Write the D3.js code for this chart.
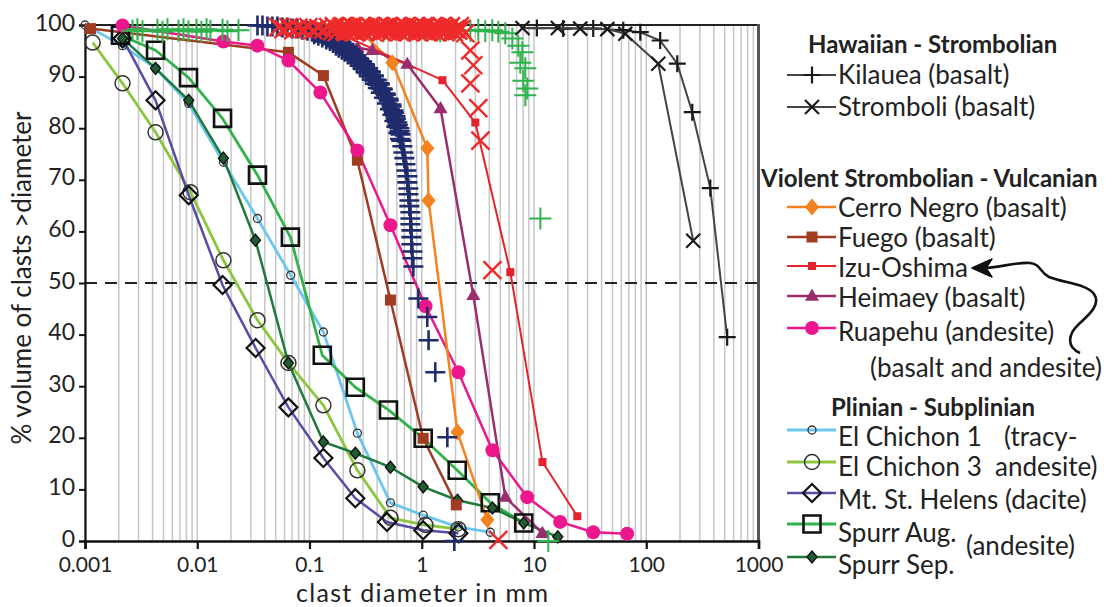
<!DOCTYPE html>
<html>
<head>
<meta charset="utf-8">
<script src="https://cdn.jsdelivr.net/npm/d3@7"></script>
<style>
  body { margin: 0; background: #fff; }
  svg { display: block; font-family: Lato, "Open Sans", sans-serif; }
</style>
</head>
<body>
<svg id="chart" width="1114" height="607"></svg>
<script>
// ---------------- data: [clast diameter (mm), % volume > diameter] ----------------
const xTickValues = [0.001, 0.01, 0.1, 1, 10, 100, 1000];
const xTickLabels = ["0.001", "0.01", "0.1", "1", "10", "100", "1000"];
const yTickValues = [0, 10, 20, 30, 40, 50, 60, 70, 80, 90, 100];
const yTickLabels = ["0", "10", "20", "30", "40", "50", "60", "70", "80", "90", "100"];

// Hawaiian - Strombolian
const kilauea = [[10.6, 99.4], [18.2, 99.3], [33.7, 99.3], [62.4, 99.0], [88.5, 98.6], [133, 97.0], [189, 92.5], [257, 83.1], [372, 68.4], [526, 39.5]];
const stromboli = [[7.9, 99.4], [16.3, 99.4], [25.8, 99.3], [45, 99.2], [65, 98.3], [128, 92.5], [262, 58.2]];

// Violent Strombolian - Vulcanian
const cerroNegro = [[0.25, 100], [0.547, 92.7], [1.12, 76.1], [1.15, 66.0], [2.08, 21.1], [3.84, 4.1]];
const fuego = [[0.00112, 99.3], [0.0649, 94.7], [0.133, 90.2], [0.267, 73.8], [0.526, 46.7], [1.03, 19.9], [2.03, 7.0]];
const izuOshima = [[0.209, 97.8], [1.53, 89.3], [3.0, 81.1], [6.15, 52.1], [11.9, 15.3], [24.3, 4.8]];
const heimaey = [[0.267, 95.6], [0.363, 95.1], [0.744, 92.4], [1.47, 83.8], [2.88, 47.6], [5.56, 8.5], [11.9, 1.5]];
const ruapehu = [[0.00216, 99.9], [0.0171, 96.8], [0.0343, 96.0], [0.0649, 93.1], [0.125, 86.9], [0.267, 75.7], [0.526, 61.2], [1.08, 45.5], [2.12, 32.7], [4.26, 17.6], [8.7, 8.5], [17.1, 3.7], [33.7, 1.7], [67.6, 1.4]];

// Plinian - Subplinian
const elChichon1 = [[0.001, 100], [0.00216, 96.0], [0.00425, 91.6], [0.0084, 84.8], [0.0171, 73.4], [0.0344, 62.5], [0.068, 51.5], [0.133, 40.5], [0.267, 20.9], [0.526, 7.4], [1.03, 5.0], [2.12, 2.7], [4.08, 1.7]];
const elChichon3 = [[0.00117, 96.6], [0.00216, 88.7], [0.00425, 79.2], [0.0087, 67.6], [0.0171, 54.4], [0.0344, 42.8], [0.0649, 34.5], [0.133, 26.3], [0.267, 13.7], [0.526, 4.5], [1.08, 3.1], [2.12, 2.3]];
const mtStHelens = [[0.00216, 97.4], [0.00425, 85.4], [0.0084, 67.0], [0.0168, 49.6], [0.0331, 37.4], [0.0649, 25.9], [0.133, 16.1], [0.256, 8.3], [0.49, 3.7], [1.03, 2.1], [2.12, 1.5]];
const spurrAug = [[0.00207, 98.0], [0.00425, 95.1], [0.00836, 89.8], [0.0168, 81.9], [0.0344, 70.9], [0.0676, 58.9], [0.130, 36.0], [0.256, 29.8], [0.505, 25.4], [1.03, 19.9], [2.07, 13.7], [4.08, 7.4], [8.1, 3.5]];
const spurrSep = [[0.00216, 97.4], [0.00425, 91.6], [0.0084, 85.4], [0.0171, 74.2], [0.033, 58.3], [0.0649, 34.5], [0.133, 19.2], [0.256, 17.0], [0.526, 14.3], [1.03, 10.5], [2.08, 7.9], [4.26, 6.4], [8.1, 3.5], [16.3, 0.8]];

// additional sample sets plotted as point clouds
const navyPlus = [
  [0.0344, 99.9], [0.0381, 99.9], [0.0422, 99.7], [0.0467, 99.7], [0.0518, 99.7], [0.0574, 99.5], [0.0636, 99.5], [0.0704, 99.3],
  [0.0780, 99.3], [0.0865, 99.1], [0.0958, 98.9], [0.106, 98.7], [0.115, 98.5], [0.125, 98.4], [0.136, 98.0], [0.147, 97.6],
  [0.157, 97.4], [0.167, 97.0], [0.177, 96.6], [0.188, 96.2], [0.200, 95.8], [0.213, 95.5], [0.227, 95.1], [0.241, 94.5],
  [0.256, 94.1], [0.272, 93.5], [0.290, 92.9], [0.308, 92.4], [0.328, 91.6], [0.348, 91.0], [0.371, 90.2], [0.394, 89.4],
  [0.419, 88.7], [0.446, 87.7], [0.474, 86.7], [0.504, 85.7], [0.536, 84.6], [0.559, 83.4], [0.582, 82.3], [0.606, 81.1],
  [0.632, 80.0], [0.645, 78.8], [0.658, 77.6], [0.672, 76.5], [0.686, 75.3], [0.700, 74.2], [0.715, 73.0], [0.729, 71.8],
  [0.744, 70.7], [0.744, 69.5], [0.760, 68.3], [0.760, 67.2], [0.776, 66.0], [0.776, 64.9], [0.792, 63.7], [0.792, 62.5],
  [0.792, 61.4], [0.808, 60.2], [0.808, 58.9], [0.808, 57.5], [0.825, 56.1], [0.825, 54.8], [0.842, 53.2], [0.933, 47.0],
  [1.12, 43.4], [1.15, 38.9], [1.32, 32.7], [1.69, 20.1], [1.95, 0],
  [0.110, 98.2], [0.120, 97.9], [0.130, 97.6], [0.141, 97.2], [0.152, 96.9], [0.162, 96.5], [0.172, 96.0], [0.182, 95.6],
  [0.194, 95.2], [0.206, 94.8], [0.220, 94.3], [0.234, 93.8], [0.248, 93.3], [0.264, 92.7], [0.281, 92.1], [0.299, 91.5],
  [0.318, 90.8], [0.338, 90.1], [0.359, 89.4], [0.382, 88.6], [0.406, 87.8], [0.432, 86.9], [0.460, 85.9], [0.489, 84.8],
  [0.520, 83.7], [0.548, 82.6], [0.570, 81.4], [0.594, 80.3], [0.619, 79.1], [0.640, 77.9],
  [0.105, 98.9], [0.118, 98.6], [0.128, 98.3], [0.139, 98.0], [0.150, 97.7], [0.160, 97.4], [0.170, 97.0], [0.181, 96.7],
  [0.192, 96.3], [0.204, 95.9], [0.217, 95.5], [0.231, 95.0], [0.245, 94.6], [0.260, 94.0], [0.276, 93.5], [0.294, 92.9],
  [0.313, 92.3], [0.333, 91.6], [0.353, 90.9], [0.375, 90.1], [0.398, 89.3], [0.423, 88.5], [0.450, 87.5], [0.478, 86.5],
  [0.508, 85.4], [0.540, 84.2], [0.565, 83.0], [0.588, 81.8], [0.612, 80.6], [0.636, 79.4]
];
const greenPlus = [
  [0.00265, 98.9], [0.00293, 99.2], [0.00325, 98.8], [0.00442, 99.1], [0.00490, 98.7], [0.00543, 99.2], [0.00680, 98.9], [0.00754, 99.2],
  [0.00835, 98.8], [0.00984, 99.1], [0.0109, 98.7], [0.0121, 99.2], [0.0131, 98.9], [0.0168, 99.1], [0.0186, 98.8], [0.0233, 99.0],
  [0.348, 99.0], [0.455, 98.8], [0.582, 99.1], [0.792, 98.9], [1.08, 99.0], [1.46, 98.8], [1.99, 99.1], [2.71, 98.9],
  [3.19, 99.1], [3.68, 98.8], [4.25, 99.0], [4.81, 98.7],
  [5.55, 98.4], [6.41, 97.4], [7.25, 96.0], [7.87, 94.7], [7.55, 92.7], [8.37, 91.6], [8.03, 89.2], [8.71, 87.7], [8.37, 86.4],
  [11.4, 62.5], [13.4, 0]
];
const redCross = [
  [0.0528, 99.6], [0.0586, 99.2], [0.0649, 99.6], [0.0719, 99.0], [0.0796, 99.5], [0.0882, 99.2], [0.0977, 99.6], [0.108, 99.0],
  [0.120, 99.4], [0.133, 99.1], [0.147, 99.6], [0.160, 98.8], [0.170, 99.5], [0.181, 99.0], [0.192, 99.6], [0.205, 98.9],
  [0.218, 99.4], [0.231, 99.0], [0.246, 99.6], [0.262, 98.8], [0.278, 99.3], [0.296, 99.0], [0.315, 99.6], [0.335, 98.9],
  [0.356, 99.4], [0.378, 99.1], [0.402, 99.6], [0.428, 98.8], [0.455, 99.3], [0.484, 99.0], [0.515, 99.6], [0.547, 98.9],
  [0.582, 99.4], [0.619, 99.0], [0.658, 99.6], [0.700, 98.8], [0.744, 99.3], [0.792, 99.0], [0.842, 99.5], [0.895, 98.9],
  [0.952, 99.4], [1.01, 99.0], [1.08, 99.6], [1.14, 98.8], [1.22, 99.3], [1.29, 99.0], [1.38, 99.5], [1.46, 98.8],
  [1.56, 99.3], [1.66, 99.0], [1.76, 99.4], [1.87, 98.8], [1.99, 99.2], [2.12, 98.9], [2.25, 99.2],
  [0.165, 99.8], [0.175, 98.6], [0.186, 99.2], [0.198, 99.8], [0.211, 98.6], [0.224, 99.2], [0.238, 99.8], [0.254, 98.6],
  [0.270, 99.2], [0.287, 99.8], [0.305, 98.6], [0.325, 99.2], [0.345, 99.8], [0.367, 98.6], [0.390, 99.2], [0.415, 99.8],
  [0.441, 98.6], [0.469, 99.2], [0.499, 99.8], [0.531, 98.6], [0.564, 99.2], [0.600, 99.8], [0.638, 98.6], [0.679, 99.2],
  [0.722, 99.8], [0.768, 98.6], [0.816, 99.2], [0.868, 99.8], [0.923, 98.6], [0.981, 99.2], [1.04, 99.8], [1.11, 98.6],
  [1.18, 99.2], [1.25, 99.8], [1.33, 98.6], [1.42, 99.2], [1.51, 99.8], [1.61, 98.6], [1.71, 99.2], [1.82, 99.8],
  [1.93, 98.6], [2.05, 99.2], [2.18, 99.8],
  [2.44, 98.4], [2.71, 95.1], [2.88, 92.2], [2.71, 88.7], [3.19, 83.9], [3.33, 77.6], [4.26, 52.5], [4.81, 0.2]
];

// ---------------- scales ----------------
const svg = d3.select("#chart");
const x = d3.scaleLog().domain([0.001, 1000]).range([85, 758.5]);
const y = d3.scaleLinear().domain([0, 100]).range([541, 25]);

// ---------------- marker shapes (centred at 0,0) ----------------
const shape = {
  plus: s => `M${-s / 2},0H${s / 2}M0,${-s / 2}V${s / 2}`,
  cross: s => { const h = s / 2; return `M${-h},${-h}L${h},${h}M${-h},${h}L${h},${-h}`; },
  diamond: (w, h) => `M0,${-h / 2}L${w / 2},0L0,${h / 2}L${-w / 2},0Z`,
  square: s => `M${-s / 2},${-s / 2}h${s}v${s}h${-s}Z`,
  triangle: s => { const h = s * 0.87; return `M0,${-h * 0.62}L${s / 2},${h * 0.38}L${-s / 2},${h * 0.38}Z`; },
  circle: r => `M${r},0A${r},${r} 0 1,1 ${-r},0A${r},${r} 0 1,1 ${r},0Z`
};

// ---------------- grid ----------------
svg.append("g").selectAll("line").data(x.ticks()).join("line")
  .attr("x1", d => x(d)).attr("x2", d => x(d))
  .attr("y1", y(100)).attr("y2", y(0))
  .attr("stroke", "#c6c6c6").attr("stroke-width", 1.5);

// 50 % reference line
svg.append("line")
  .attr("x1", x(0.001)).attr("x2", x(1000))
  .attr("y1", y(50)).attr("y2", y(50))
  .attr("stroke", "#222").attr("stroke-width", 2).attr("stroke-dasharray", "12,8");

// frame: top and right
svg.append("line").attr("x1", x(0.001)).attr("x2", x(1000)).attr("y1", y(100)).attr("y2", y(100))
  .attr("stroke", "#222").attr("stroke-width", 2);
svg.append("line").attr("x1", x(1000)).attr("x2", x(1000)).attr("y1", y(100) - 1).attr("y2", y(0))
  .attr("stroke", "#555").attr("stroke-width", 3);

// ---------------- axes ----------------
const xAxis = svg.append("g").attr("transform", `translate(0,${y(0)})`)
  .call(d3.axisBottom(x).tickValues(xTickValues).tickFormat((d, i) => xTickLabels[i]).tickSize(8).tickPadding(8));
xAxis.select(".domain").attr("stroke", "#111").attr("stroke-width", 2.6);
xAxis.selectAll(".tick line").attr("stroke", "#111").attr("stroke-width", 2.2);
xAxis.selectAll(".tick text").attr("font-size", 21).attr("fill", "#222").attr("font-family", "Lato");

const yAxis = svg.append("g").attr("transform", `translate(${x(0.001)},0)`)
  .call(d3.axisLeft(y).tickValues(yTickValues).tickFormat((d, i) => yTickLabels[i]).tickSize(6).tickPadding(4));
yAxis.select(".domain").attr("stroke", "#111").attr("stroke-width", 2.2);
yAxis.selectAll(".tick line").attr("stroke", "#111").attr("stroke-width", 2);
yAxis.selectAll(".tick text").attr("font-size", 23).attr("dy", "0.22em").attr("fill", "#222").attr("font-family", "Lato");

svg.append("text").attr("x", 422).attr("y", 601.5).attr("text-anchor", "middle")
  .attr("font-size", 25).attr("textLength", 252).attr("lengthAdjust", "spacing")
  .attr("fill", "#222").text("clast diameter in mm");
svg.append("text").attr("transform", "translate(31,278) rotate(-90)").attr("text-anchor", "middle")
  .attr("font-size", 26).attr("fill", "#222").text("% volume of clasts >diameter");

// ---------------- series ----------------
const series = [
  { data: elChichon1, line: "#6cc6ef", lw: 2.8, mk: { d: shape.circle(4), fill: "none", stroke: "#333", sw: 1.3 } },
  { data: elChichon3, line: "#8cc63e", lw: 2.8, mk: { d: shape.circle(7.5), fill: "none", stroke: "#333", sw: 1.5 } },
  { data: mtStHelens, line: "#5a4ca6", lw: 2.5, mk: { d: shape.diamond(18, 18), fill: "none", stroke: "#111", sw: 2.2 } },
  { data: spurrAug, line: "#31b24b", lw: 2.8, mk: { d: shape.square(17), fill: "none", stroke: "#111", sw: 2.6 } },
  { data: spurrSep, line: "#1f7a3c", lw: 2.5, mk: { d: shape.diamond(10, 12), fill: "#1f5e34", stroke: "#111", sw: 1.4 } },
  { data: fuego, line: "#a03c22", lw: 2.5, mk: { d: shape.square(11), fill: "#a03c22", stroke: "none", sw: 0 } },
  { data: ruapehu, line: "#ec178c", lw: 2.5, mk: { d: shape.circle(7), fill: "#ec178c", stroke: "none", sw: 0 } },
  { data: cerroNegro, line: "#f58220", lw: 2.5, mk: { d: shape.diamond(14, 17), fill: "#f58220", stroke: "none", sw: 0 } },
  { data: heimaey, line: "#9a2d6d", lw: 2.5, mk: { d: shape.triangle(14), fill: "#9a2d6d", stroke: "none", sw: 0 } },
  { data: izuOshima, line: "#e5232d", lw: 2, mk: { d: shape.square(8), fill: "#e5232d", stroke: "none", sw: 0 } }
];

const lineGen = d3.line().x(d => x(d[0])).y(d => y(d[1]));

series.forEach(s => {
  svg.append("path").datum(s.data).attr("d", lineGen)
    .attr("fill", "none").attr("stroke", s.line).attr("stroke-width", s.lw).attr("stroke-linejoin", "round");
});
series.forEach(s => {
  svg.append("g").selectAll("path").data(s.data).join("path")
    .attr("transform", d => `translate(${x(d[0])},${y(d[1])})`)
    .attr("d", s.mk.d).attr("fill", s.mk.fill).attr("stroke", s.mk.stroke).attr("stroke-width", s.mk.sw);
});

// point clouds
function cloud(data, d, color, sw) {
  svg.append("g").selectAll("path").data(data).join("path")
    .attr("transform", p => `translate(${x(p[0])},${y(p[1])})`)
    .attr("d", d).attr("fill", "none").attr("stroke", color).attr("stroke-width", sw);
}
cloud(navyPlus, shape.plus(20), "#1f2b6b", 2.6);
cloud(greenPlus, shape.plus(22), "#2fb34c", 2);
cloud(redCross, shape.cross(18), "#ee2a2a", 2.4);

// Hawaiian - Strombolian lines and markers on top
[[kilauea, shape.plus(17)], [stromboli, shape.cross(14)]].forEach(([data, mk]) => {
  svg.append("path").datum(data).attr("d", lineGen)
    .attr("fill", "none").attr("stroke", "#444").attr("stroke-width", 2);
  svg.append("g").selectAll("path").data(data).join("path")
    .attr("transform", d => `translate(${x(d[0])},${y(d[1])})`)
    .attr("d", mk).attr("fill", "none").attr("stroke", "#1a1a1a").attr("stroke-width", 2.2);
});

// ---------------- legend ----------------
const lg = svg.append("g").attr("font-size", 26).attr("fill", "#222");
const heads = [
  { t: "Hawaiian - Strombolian", x: 808, y: 45 },
  { t: "Violent Strombolian - Vulcanian", x: 761, y: 179 },
  { t: "Plinian - Subplinian", x: 831, y: 408 }
];
heads.forEach(h => lg.append("text").attr("x", h.x).attr("y", h.y).attr("dy", "0.35em")
  .attr("font-weight", "bold").attr("font-size", 24).text(h.t));

const entries = [
  { t: "Kilauea (basalt)", ly: 75, ty: 75, line: "#444", lw: 2, mk: { d: shape.plus(17), fill: "none", stroke: "#1a1a1a", sw: 2.2 } },
  { t: "Stromboli (basalt)", ly: 107, ty: 107, line: "#444", lw: 2, mk: { d: shape.cross(14), fill: "none", stroke: "#1a1a1a", sw: 2.2 } },
  { t: "Cerro Negro (basalt)", ly: 207, ty: 208, ...series[7] },
  { t: "Fuego (basalt)", ly: 237, ty: 238, ...series[5] },
  { t: "Izu-Oshima", ly: 266, ty: 268, ...series[9] },
  { t: "Heimaey (basalt)", ly: 296, ty: 298, ...series[8] },
  { t: "Ruapehu (andesite)", ly: 328, ty: 332, ...series[6] },
  { t: "El Chichon 1", ly: 430, ty: 437, ...series[0] },
  { t: "El Chichon 3", ly: 462, ty: 467, ...series[1] },
  { t: "Mt. St. Helens (dacite)", ly: 493, ty: 500, ...series[2] },
  { t: "Spurr Aug.", ly: 524, ty: 533, ...series[3] },
  { t: "Spurr Sep.", ly: 557, ty: 565, ...series[4] }
];
entries.forEach(e => {
  lg.append("line").attr("x1", 787).attr("x2", 836).attr("y1", e.ly).attr("y2", e.ly)
    .attr("stroke", e.line).attr("stroke-width", e.lw);
  lg.append("path").attr("transform", `translate(812,${e.ly})`).attr("d", e.mk.d)
    .attr("fill", e.mk.fill).attr("stroke", e.mk.stroke).attr("stroke-width", e.mk.sw);
  lg.append("text").attr("x", 838).attr("y", e.ty).attr("dy", "0.35em").text(e.t);
});

// rock-type notes
[["(basalt and andesite)", 870, 368], ["(tracy-", 1004, 437], ["andesite)", 995, 467], ["(andesite)", 966, 546]]
  .forEach(([t, tx, ty]) => lg.append("text").attr("x", tx).attr("y", ty).attr("dy", "0.35em").text(t));

// curved arrow pointing at Izu-Oshima
svg.append("path")
  .attr("d", "M1080,353 C1066,347 1068,334 1079,324 C1090,314 1101,304 1094,294 C1087,284 1064,283 1049,277 C1040,273 1041,264 1030,263 C1016,262 1002,267 986,268")
  .attr("fill", "none").attr("stroke", "#111").attr("stroke-width", 2.6);
svg.append("path")
  .attr("d", "M972,268 L992,259 L986,268 L992,277 Z")
  .attr("fill", "#111").attr("stroke", "#111").attr("stroke-width", 1.5).attr("stroke-linejoin", "round");
</script>
</body>
</html>
